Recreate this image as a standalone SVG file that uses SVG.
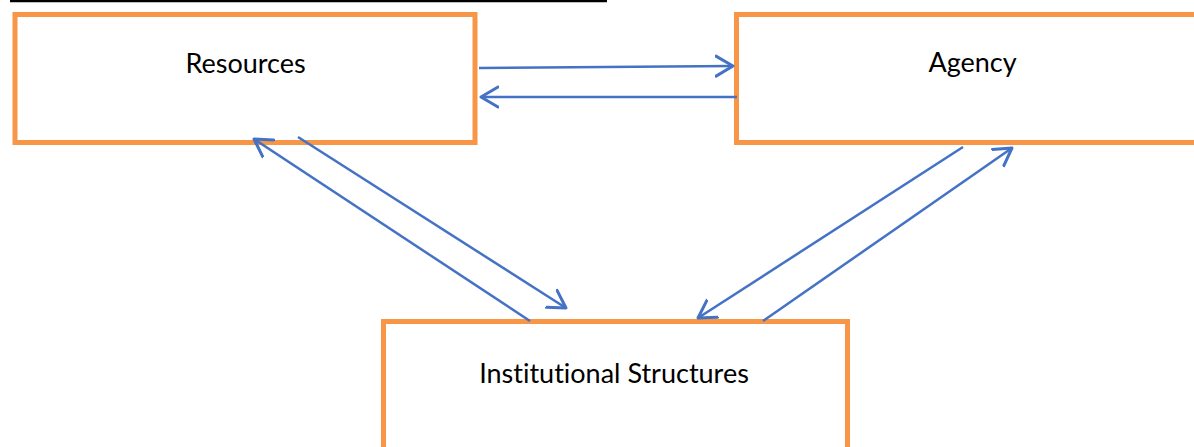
<svg xmlns="http://www.w3.org/2000/svg" width="1194" height="447" viewBox="0 0 1194 447">
<style>
.box{fill:#ffffff;stroke:#F79646;stroke-width:5}
.lbl{font-family:Lato,"Liberation Sans",sans-serif;font-size:27px;fill:#000000;text-anchor:middle;font-variant-ligatures:none}
.conn line{stroke:#4472C4;stroke-width:2.5;fill:none;marker-end:url(#ah)}
</style>
<defs>
<marker id="ah" viewBox="0 0 20 24" refX="18" refY="12" markerWidth="20" markerHeight="24" markerUnits="userSpaceOnUse" orient="auto">
<path d="M1,2 L18,12 L1,22" fill="none" stroke="#4472C4" stroke-width="3" stroke-linecap="round" stroke-linejoin="round"/>
</marker>
</defs>
<rect width="1194" height="447" fill="#ffffff"/>
<line x1="10" y1="1" x2="607" y2="1" stroke="#000000" stroke-width="2.5"/>
<g id="resources">
<rect class="box" x="15" y="14.5" width="460" height="128"/>
<text class="lbl" x="245.5" y="73">Resources</text>
</g>
<g id="agency">
<rect class="box" x="736.5" y="14.5" width="470" height="128"/>
<text class="lbl" x="972.5" y="72">Agency</text>
</g>
<g id="institutional">
<rect class="box" x="383.5" y="321.5" width="464" height="140"/>
<text class="lbl" x="614" y="383">Institutional Structures</text>
</g>
<g id="connectors" class="conn">
<line x1="479" y1="68" x2="733" y2="66"/>
<line x1="737" y1="97" x2="481" y2="97"/>
<line x1="530" y1="321" x2="254" y2="139"/>
<line x1="298" y1="137" x2="566" y2="308"/>
<line x1="963" y1="147" x2="698" y2="318"/>
<line x1="763" y1="321" x2="1012" y2="148"/>
</g>
</svg>
